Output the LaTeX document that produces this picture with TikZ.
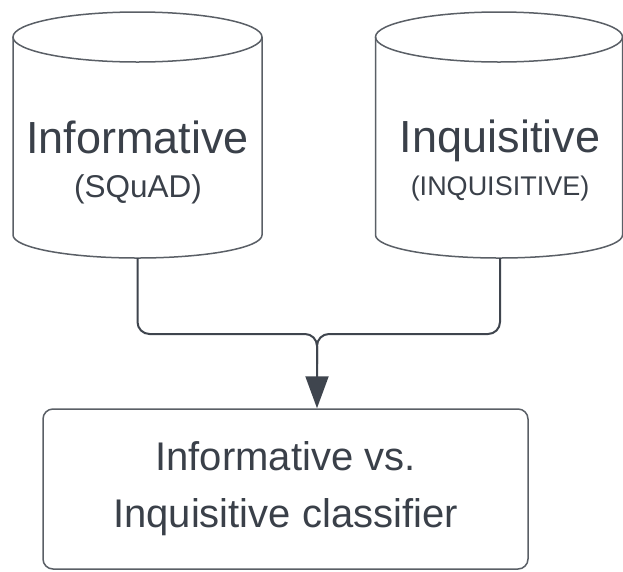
\documentclass[tikz,border=0pt]{standalone}
\usepackage{fontspec}
\setmainfont{Liberation Sans}
\usetikzlibrary{arrows.meta}

\definecolor{edgegray}{HTML}{5A5F66}
\definecolor{inkgray}{HTML}{3A4049}
\definecolor{linkgray}{HTML}{3F454E}

\begin{document}
\begin{tikzpicture}[x=1pt,y=1pt,
  dbline/.style={draw=edgegray, line width=1.5pt},
  bigtext/.style={text=inkgray, inner sep=0pt, anchor=base, font=\fontsize{45}{50}\selectfont},
  subtext/.style={text=inkgray, inner sep=0pt, anchor=base},
  flow/.style={draw=linkgray, line width=2pt, rounded corners=12pt},
  classbox/.style={draw=edgegray, line width=1.5pt, rounded corners=10pt,
    minimum width=485pt, minimum height=160pt, align=center, text=inkgray,
    font=\fontsize{40}{57}\selectfont}
]
\useasboundingbox (0,0) rectangle (623,-571);

% left data store
\draw[dbline] (137.5,-37) ellipse [x radius=124.5, y radius=25];
\draw[dbline] (13,-37) -- (13,-235)
  arc[start angle=180, end angle=360, x radius=124.5, y radius=23] -- (262,-37);
\node[bigtext] (infname) at (137.5,-153) {Informative};
\node[subtext, font=\fontsize{31.5}{35}\selectfont] (infsrc) at (138,-197) {(SQuAD)};
\coordinate (infB) at (137.5,-258);

% right data store
\draw[dbline] (499,-37) ellipse [x radius=123.5, y radius=25];
\draw[dbline] (375.5,-37) -- (375.5,-235)
  arc[start angle=180, end angle=360, x radius=123.5, y radius=23] -- (622.5,-37);
\node[bigtext] (inqname) at (500,-152) {Inquisitive};
\node[subtext, font=\fontsize{27}{31}\selectfont] (inqsrc) at (500,-195) {(INQUISITIVE)};
\coordinate (inqB) at (500,-258);

% classifier
\node[classbox] (clf) at (285.5,-489) {Informative vs.\\Inquisitive classifier};

% merging connectors
\coordinate (join) at (317,-334);
\draw[flow] (infB) |- (join) -- ++(0,-30);
\draw[flow, -{Triangle[length=32pt, width=23pt]}] (inqB) |- (join) -- (join |- clf.north);
\end{tikzpicture}
\end{document}
